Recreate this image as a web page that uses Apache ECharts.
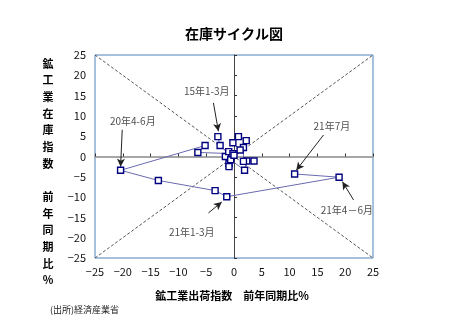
<!DOCTYPE html>
<html><head><meta charset="utf-8">
<script src="https://cdn.jsdelivr.net/npm/echarts@6/dist/echarts.min.js"></script>
<style>html,body{margin:0;padding:0;background:#fff}#c{width:452px;height:327px}</style>
</head><body><div id="c"></div>
<script>
// x: 鉱工業出荷指数 前年同期比%, y: 鉱工業在庫指数 前年同期比%
const periods = ['15Q1','15Q2','15Q3','15Q4','16Q1','16Q2','16Q3','16Q4','17Q1','17Q2','17Q3','17Q4','18Q1','18Q2','18Q3','18Q4','19Q1','19Q2','19Q3','19Q4','20Q1','20Q2','20Q3','20Q4','21Q1','21Q2','21/7'];
const shipments = [-2.9,-2.5,-0.5,-1.55,-0.9,-0.9,-0.6,1.9,2.3,3.6,1.7,1.7,2.2,0.8,-0.2,1.1,-0.95,-0.2,0.0,-6.5,-5.2,-20.4,-13.6,-3.4,-1.3,18.9,10.9];
const inventory = [4.9,2.7,0.0,0.0,-1.8,-2.5,-0.8,-3.4,-1.1,-1.1,-1.2,2.2,3.9,4.9,3.4,1.6,1.2,0.7,0.3,1.0,2.7,-3.4,-5.9,-8.4,-9.9,-5.1,-4.3];
const axisTicks = [-25,-20,-15,-10,-5,0,5,10,15,20,25];
const annotLabels = ['15年1-3月','20年4-6月','21年7月','21年4－6月','21年1-3月'];
// annotation label positions and arrow (start,end) in data units
const annotLabelPos = [[-4.9,16.2],[-18.2,8.6],[17.6,7.4],[20.3,-13.3],[-7.6,-18.6]];
const annotArrows = [[[-3.7,13.2],[-2.8,6.2]],[[-20.1,6.6],[-20.4,-2.5]],[[16.1,5.3],[11.2,-3.4]],[[21.5,-10.7],[19.5,-6.2]],[[-4.6,-13.9],[-2.2,-11.2]]];

const FONT = '"Noto Sans CJK JP","Noto Sans",sans-serif';
const fmt = v => (v < 0 ? '\u2212' + Math.abs(v) : String(v));
const chart = echarts.init(document.getElementById('c'), null, {renderer:'canvas'});
const ytitle = [...'鉱工業在庫指数', '', ...'前年同期比%'].join('\n');
const base = {min: axisTicks[0], max: axisTicks[axisTicks.length-1], interval: 5};
chart.setOption({
  animation: false,
  grid: {left: 95, top: 55, width: 278, height: 203, show: true, borderColor: '#4f81bd', borderWidth: 1, backgroundColor: 'transparent'},
  xAxis: [
    Object.assign({type:'value', position:'bottom', axisLine:{show:false, onZero:false}, axisTick:{show:false}, splitLine:{show:false},
      axisLabel:{formatter: fmt, fontSize: 11, color:'#111', margin: 8, fontFamily: FONT}}, base),
    Object.assign({type:'value', position:'bottom', axisLine:{show:true, onZero:true, lineStyle:{color:'#a6a6a6', width:2}},
      axisTick:{show:true, inside:true, length:3, lineStyle:{color:'#333', width:1}}, axisLabel:{show:false}, splitLine:{show:false}}, base)
  ],
  yAxis: [
    Object.assign({type:'value', position:'left', axisLine:{show:false, onZero:false}, axisTick:{show:false}, splitLine:{show:false},
      axisLabel:{formatter: fmt, fontSize: 11, color:'#111', margin: 9, fontFamily: FONT}}, base),
    Object.assign({type:'value', position:'left', axisLine:{show:true, onZero:true, lineStyle:{color:'#444', width:1}},
      axisTick:{show:true, inside:true, length:3, lineStyle:{color:'#333', width:1}}, axisLabel:{show:false}, splitLine:{show:false}}, base)
  ],
  graphic: [
    {type:'text', x:234, y:34, style:{text:'在庫サイクル図', font:'bold 14px ' + FONT, fill:'#000', textAlign:'center', textVerticalAlign:'middle'}},
    {type:'text', x:48, y:55, style:{text: ytitle, font:'bold 11px ' + FONT, fill:'#000', textAlign:'center', textVerticalAlign:'top', lineHeight:16.67}},
    {type:'text', x:232, y:296, style:{text:'鉱工業出荷指数　前年同期比%', font:'bold 11px ' + FONT, fill:'#000', textAlign:'center', textVerticalAlign:'middle'}},
    {type:'text', x:50, y:310, style:{text:'(出所)経済産業省', font:'9px ' + FONT, fill:'#222', textAlign:'left', textVerticalAlign:'middle'}}
  ],
  series: [
    {type:'line', silent:true, data:[], markLine:{silent:true, symbol:['none','none'], label:{show:false},
      lineStyle:{type:[3,2], color:'#555', width:1},
      data:[[{coord:[axisTicks[0],axisTicks[10]]},{coord:[axisTicks[10],axisTicks[0]]}],
            [{coord:[axisTicks[0],axisTicks[0]]},{coord:[axisTicks[10],axisTicks[10]]}]]}},
    {type:'line', name:'cycle', data: shipments.map((x,i)=>({value:[x, inventory[i]], name: periods[i]})),
      lineStyle:{color:'#6a6aae', width:1}, symbol:'rect', symbolSize:6,
      itemStyle:{color:'#fff', borderColor:'#000080', borderWidth:1.4}, z:5},
    {type:'scatter', silent:true, symbolSize:0, data: annotLabels.map((t,i)=>({value: annotLabelPos[i], name: t})),
      label:{show:true, position:'inside', formatter:'{b}', fontSize:10, color:'#222', fontFamily: FONT},
      markLine:{silent:true, symbol:['none','arrow'], symbolSize:[6,8], label:{show:false},
        lineStyle:{type:'solid', color:'#222', width:1},
        data: annotArrows.map(a=>[{coord:a[0]},{coord:a[1]}])}, z:6}
  ]
});
</script></body></html>
